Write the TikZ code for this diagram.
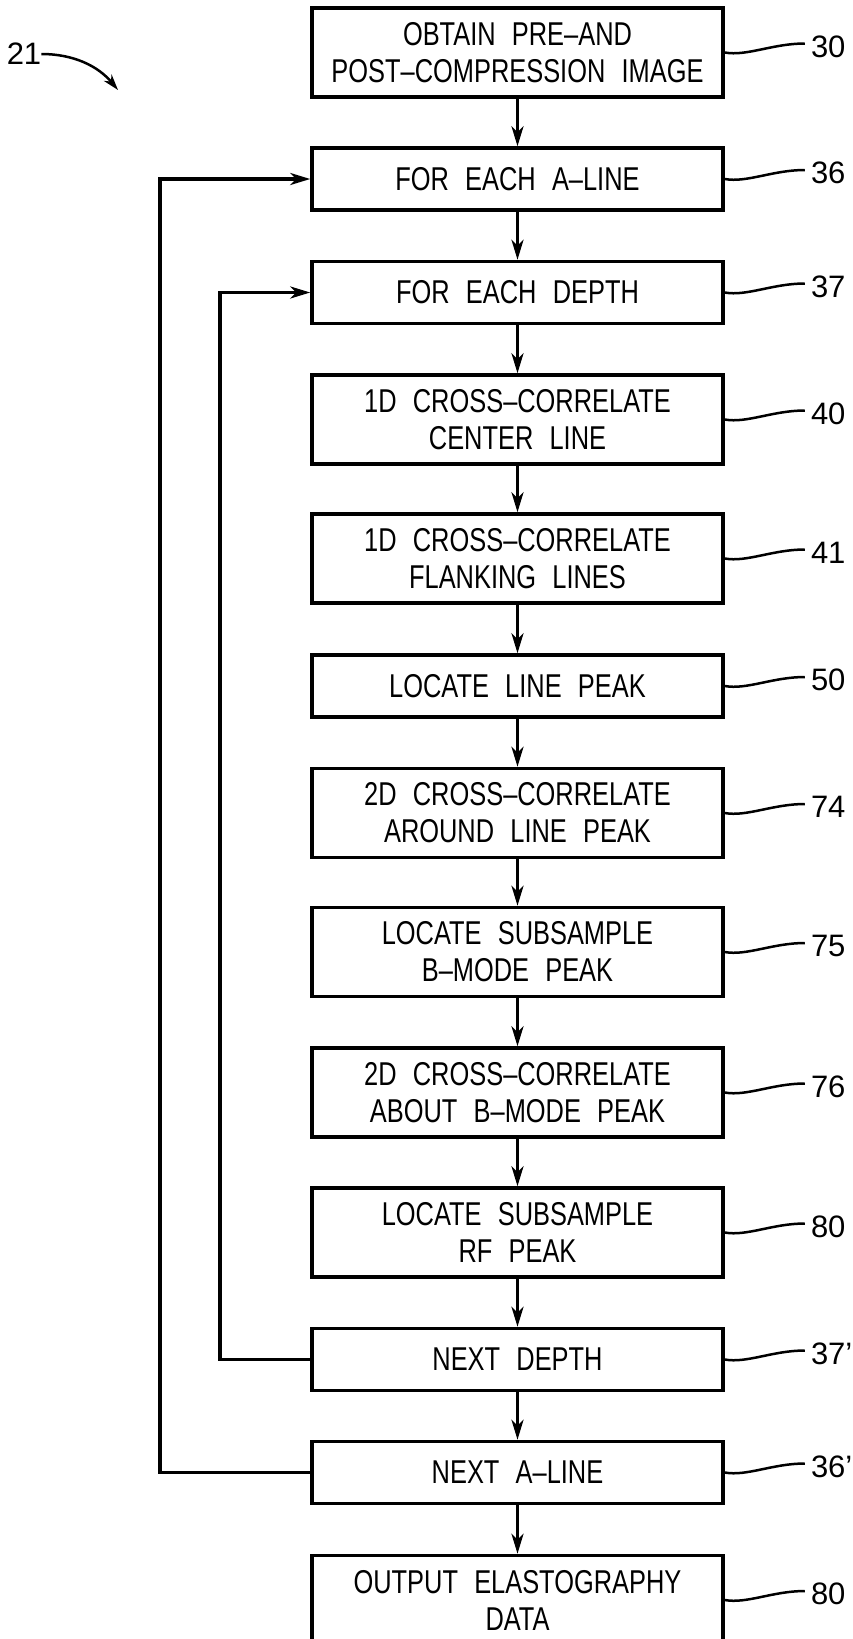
\documentclass[tikz,border=0pt]{standalone}
\usepackage{fontspec}
\setmainfont{Liberation Sans}[FakeStretch=0.77, WordSpace=2.3]
\newfontfamily\numfont{Liberation Sans}
\usetikzlibrary{arrows.meta}
\newcommand{\boxfont}{\fontsize{33}{37}\selectfont}

\begin{document}
\begin{tikzpicture}[x=1pt, y=-1pt,
    procbox/.style={draw, line width=3.5pt, minimum width=411pt, minimum height=62pt,
        inner sep=0pt, align=center, font=\boxfont},
    tallbox/.style={procbox, minimum height=89pt},
    flowarrow/.style={-{Stealth[length=20pt, width=12pt, inset=6pt]}, line width=3.2pt},
    leader/.style={line width=2.5pt},
    refnum/.style={font=\numfont\fontsize{31}{36}\selectfont, anchor=west, inner sep=0pt}]
    \useasboundingbox (0,0) rectangle (853,1639);

    % flow steps
    \node[tallbox] (obtain)    at (517.5, 52.5)  {OBTAIN PRE--AND\\POST--COMPRESSION IMAGE};
    \node[procbox] (aline)     at (517.5, 179)   {FOR EACH A--LINE};
    \node[procbox] (depth)     at (517.5, 292.5) {FOR EACH DEPTH};
    \node[tallbox] (center)    at (517.5, 419.5) {1D CROSS--CORRELATE\\CENTER LINE};
    \node[tallbox] (flank)     at (517.5, 558.5) {1D CROSS--CORRELATE\\FLANKING LINES};
    \node[procbox] (linepeak)  at (517.5, 686)   {LOCATE LINE PEAK};
    \node[tallbox] (around)    at (517.5, 813)   {2D CROSS--CORRELATE\\AROUND LINE PEAK};
    \node[tallbox] (bmode)     at (517.5, 952)   {LOCATE SUBSAMPLE\\B--MODE PEAK};
    \node[tallbox] (about)     at (517.5, 1092.5) {2D CROSS--CORRELATE\\ABOUT B--MODE PEAK};
    \node[tallbox] (rfpeak)    at (517.5, 1232.5) {LOCATE SUBSAMPLE\\RF PEAK};
    \node[procbox] (nextdepth) at (517.5, 1359.5) {NEXT DEPTH};
    \node[procbox] (nextaline) at (517.5, 1472.5) {NEXT A--LINE};
    \node[tallbox] (output)    at (517.5, 1600)  {OUTPUT ELASTOGRAPHY\\DATA};

    \foreach \a/\b in {obtain/aline, aline/depth, depth/center, center/flank, flank/linepeak,
        linepeak/around, around/bmode, bmode/about, about/rfpeak, rfpeak/nextdepth,
        nextdepth/nextaline, nextaline/output}
        \draw[flowarrow] (\a) -- (\b);

    % loops back
    \draw[flowarrow, line width=3.6pt] (nextaline.west) -| (160, 179) -- (aline.west);
    \draw[flowarrow, line width=3.6pt] (nextdepth.west) -| (220, 292.5) -- (depth.west);

    % reference numerals
    \foreach \n/\t in {obtain/30, aline/36, depth/37, center/40, flank/41, linepeak/50,
        around/74, bmode/75, about/76, rfpeak/80, nextdepth/37’, nextaline/36’, output/80}
        \draw[leader] (\n.east) .. controls +(22,4) and +(-32,0) .. ++(80,-9)
            node[refnum, xshift=5pt, yshift=-3pt] {\t};

    \node[refnum, anchor=center] (fig) at (24, 54) {21};
    \coordinate (figtip) at (118, 90);
    \draw[-{Stealth[length=16pt, width=10pt, inset=5pt]}, line width=2.5pt]
        (fig.east) .. controls +(32,0) and +(-20,-24) .. (figtip);
\end{tikzpicture}
\end{document}
